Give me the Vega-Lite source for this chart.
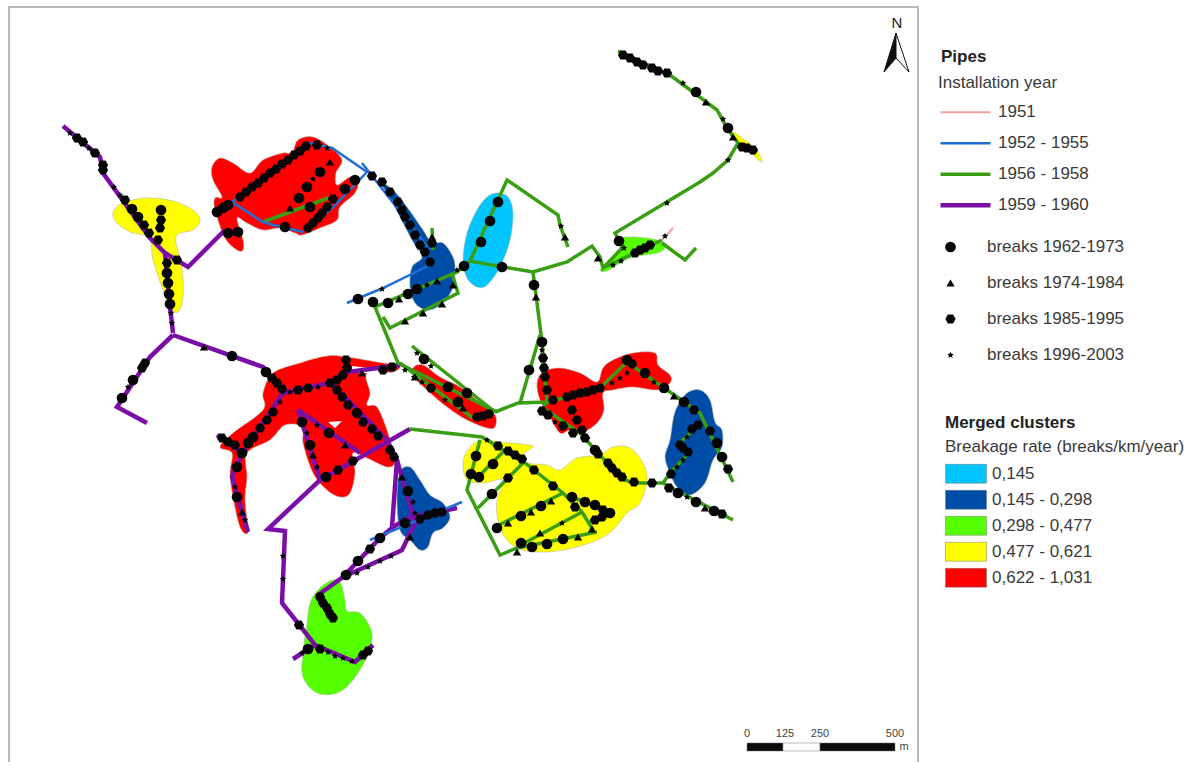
{"$schema":"https://vega.github.io/schema/vega-lite/v6.json","width":1194,"height":762,"autosize":{"type":"fit","contains":"padding"},"padding":0,"background":"white","config":{"view":{"stroke":null},"font":"Liberation Sans"},
"encoding":{"x":{"field":"x","type":"quantitative","scale":{"domain":[0,1194],"nice":false,"zero":false},"axis":null},"y":{"field":"y","type":"quantitative","scale":{"domain":[762,0],"nice":false,"zero":false},"axis":null}},
"layer":[
{"data":{"values":[{"x":9,"x2":918,"y":7,"y2":775}]},"mark":{"type":"rect","fill":"white","stroke":"#b8b8b8","strokeWidth":2,"clip":true},"encoding":{"x2":{"field":"x2"},"y2":{"field":"y2"}}},
{"data":{"values":[
{"g":"a","x":113,"y":213},{"g":"a","x":122,"y":203},{"g":"a","x":147,"y":198},{"g":"a","x":173,"y":201},{"g":"a","x":193,"y":210},{"g":"a","x":200,"y":220},{"g":"a","x":193,"y":230},{"g":"a","x":176,"y":237},{"g":"a","x":182,"y":267},{"g":"a","x":183,"y":297},{"g":"a","x":178,"y":312},{"g":"a","x":170,"y":307},{"g":"a","x":162,"y":287},{"g":"a","x":153,"y":260},{"g":"a","x":149,"y":238},{"g":"a","x":130,"y":232},{"g":"a","x":117,"y":223},
{"g":"b","x":212,"y":167},{"g":"b","x":220,"y":158},{"g":"b","x":233,"y":163},{"g":"b","x":250,"y":173},{"g":"b","x":263,"y":160},{"g":"b","x":283,"y":153},{"g":"b","x":292,"y":153},{"g":"b","x":298,"y":140},{"g":"b","x":313,"y":137},{"g":"b","x":330,"y":147},{"g":"b","x":342,"y":160},{"g":"b","x":336,"y":173},{"g":"b","x":337,"y":185},{"g":"b","x":350,"y":177},{"g":"b","x":358,"y":180},{"g":"b","x":355,"y":193},{"g":"b","x":340,"y":207},{"g":"b","x":337,"y":220},{"g":"b","x":320,"y":228},{"g":"b","x":302,"y":235},{"g":"b","x":295,"y":233},{"g":"b","x":280,"y":228},{"g":"b","x":263,"y":230},{"g":"b","x":247,"y":223},{"g":"b","x":237,"y":218},{"g":"b","x":243,"y":240},{"g":"b","x":243,"y":250},{"g":"b","x":237,"y":250},{"g":"b","x":225,"y":238},{"g":"b","x":215,"y":210},{"g":"b","x":215,"y":198},{"g":"b","x":222,"y":197},{"g":"b","x":213,"y":180},
{"g":"c","x":380,"y":182},{"g":"c","x":393,"y":190},{"g":"c","x":407,"y":207},{"g":"c","x":423,"y":230},{"g":"c","x":432,"y":243},{"g":"c","x":443,"y":243},{"g":"c","x":453,"y":257},{"g":"c","x":455,"y":270},{"g":"c","x":452,"y":290},{"g":"c","x":440,"y":305},{"g":"c","x":427,"y":310},{"g":"c","x":415,"y":303},{"g":"c","x":410,"y":287},{"g":"c","x":412,"y":267},{"g":"c","x":422,"y":257},{"g":"c","x":412,"y":240},{"g":"c","x":400,"y":217},{"g":"c","x":387,"y":193},
{"g":"d","x":497,"y":193},{"g":"d","x":508,"y":197},{"g":"d","x":513,"y":213},{"g":"d","x":510,"y":240},{"g":"d","x":500,"y":267},{"g":"d","x":487,"y":285},{"g":"d","x":477,"y":287},{"g":"d","x":467,"y":278},{"g":"d","x":463,"y":260},{"g":"d","x":467,"y":233},{"g":"d","x":477,"y":210},{"g":"d","x":487,"y":197},
{"g":"e","x":600,"y":270},{"g":"e","x":610,"y":260},{"g":"e","x":620,"y":250},{"g":"e","x":618,"y":240},{"g":"e","x":627,"y":237},{"g":"e","x":647,"y":238},{"g":"e","x":662,"y":242},{"g":"e","x":665,"y":248},{"g":"e","x":657,"y":253},{"g":"e","x":633,"y":257},{"g":"e","x":620,"y":263},{"g":"e","x":607,"y":271},
{"g":"f","x":537,"y":383},{"g":"f","x":543,"y":372},{"g":"f","x":560,"y":368},{"g":"f","x":580,"y":373},{"g":"f","x":597,"y":382},{"g":"f","x":603,"y":368},{"g":"f","x":613,"y":360},{"g":"f","x":633,"y":353},{"g":"f","x":655,"y":353},{"g":"f","x":658,"y":365},{"g":"f","x":670,"y":375},{"g":"f","x":670,"y":383},{"g":"f","x":657,"y":390},{"g":"f","x":633,"y":387},{"g":"f","x":613,"y":390},{"g":"f","x":603,"y":393},{"g":"f","x":604,"y":410},{"g":"f","x":597,"y":423},{"g":"f","x":583,"y":432},{"g":"f","x":570,"y":430},{"g":"f","x":560,"y":433},{"g":"f","x":550,"y":417},{"g":"f","x":540,"y":400},
{"g":"h","x":413,"y":368},{"g":"h","x":423,"y":365},{"g":"h","x":440,"y":377},{"g":"h","x":460,"y":387},{"g":"h","x":480,"y":403},{"g":"h","x":495,"y":415},{"g":"h","x":495,"y":427},{"g":"h","x":487,"y":428},{"g":"h","x":467,"y":420},{"g":"h","x":447,"y":407},{"g":"h","x":427,"y":390},{"g":"h","x":415,"y":378},
{"g":"i","x":677,"y":407},{"g":"i","x":687,"y":393},{"g":"i","x":700,"y":390},{"g":"i","x":710,"y":400},{"g":"i","x":715,"y":422},{"g":"i","x":722,"y":430},{"g":"i","x":722,"y":447},{"g":"i","x":713,"y":460},{"g":"i","x":705,"y":483},{"g":"i","x":690,"y":495},{"g":"i","x":677,"y":487},{"g":"i","x":670,"y":473},{"g":"i","x":665,"y":457},{"g":"i","x":670,"y":440},{"g":"i","x":673,"y":420},
{"g":"j","x":463,"y":463},{"g":"j","x":468,"y":450},{"g":"j","x":480,"y":440},{"g":"j","x":500,"y":442},{"g":"j","x":530,"y":445},{"g":"j","x":532,"y":448},{"g":"j","x":522,"y":455},{"g":"j","x":527,"y":463},{"g":"j","x":547,"y":465},{"g":"j","x":560,"y":470},{"g":"j","x":577,"y":458},{"g":"j","x":600,"y":455},{"g":"j","x":613,"y":447},{"g":"j","x":630,"y":448},{"g":"j","x":643,"y":463},{"g":"j","x":647,"y":480},{"g":"j","x":640,"y":503},{"g":"j","x":627,"y":513},{"g":"j","x":613,"y":530},{"g":"j","x":597,"y":540},{"g":"j","x":573,"y":548},{"g":"j","x":547,"y":552},{"g":"j","x":523,"y":550},{"g":"j","x":507,"y":540},{"g":"j","x":498,"y":520},{"g":"j","x":497,"y":500},{"g":"j","x":503,"y":480},{"g":"j","x":483,"y":483},{"g":"j","x":467,"y":480},
{"g":"k","x":263,"y":393},{"g":"k","x":273,"y":373},{"g":"k","x":300,"y":363},{"g":"k","x":327,"y":356},{"g":"k","x":347,"y":357},{"g":"k","x":383,"y":363},{"g":"k","x":400,"y":365},{"g":"k","x":393,"y":372},{"g":"k","x":367,"y":373},{"g":"k","x":370,"y":393},{"g":"k","x":367,"y":405},{"g":"k","x":377,"y":407},{"g":"k","x":387,"y":430},{"g":"k","x":393,"y":453},{"g":"k","x":395,"y":463},{"g":"k","x":387,"y":467},{"g":"k","x":367,"y":458},{"g":"k","x":353,"y":453},{"g":"k","x":355,"y":473},{"g":"k","x":350,"y":493},{"g":"k","x":340,"y":497},{"g":"k","x":327,"y":490},{"g":"k","x":313,"y":473},{"g":"k","x":303,"y":443},{"g":"k","x":303,"y":427},{"g":"k","x":285,"y":425},{"g":"k","x":270,"y":440},{"g":"k","x":247,"y":453},{"g":"k","x":247,"y":477},{"g":"k","x":245,"y":500},{"g":"k","x":248,"y":532},{"g":"k","x":240,"y":527},{"g":"k","x":233,"y":497},{"g":"k","x":230,"y":473},{"g":"k","x":232,"y":453},{"g":"k","x":220,"y":447},{"g":"k","x":233,"y":433},{"g":"k","x":263,"y":410},
{"g":"l","x":400,"y":472},{"g":"l","x":410,"y":467},{"g":"l","x":420,"y":480},{"g":"l","x":430,"y":495},{"g":"l","x":443,"y":503},{"g":"l","x":450,"y":517},{"g":"l","x":443,"y":528},{"g":"l","x":433,"y":533},{"g":"l","x":428,"y":547},{"g":"l","x":420,"y":550},{"g":"l","x":410,"y":540},{"g":"l","x":400,"y":530},{"g":"l","x":397,"y":500},
{"g":"m","x":318,"y":590},{"g":"m","x":330,"y":581},{"g":"m","x":340,"y":582},{"g":"m","x":345,"y":600},{"g":"m","x":347,"y":611},{"g":"m","x":360,"y":613},{"g":"m","x":370,"y":627},{"g":"m","x":372,"y":640},{"g":"m","x":367,"y":657},{"g":"m","x":353,"y":680},{"g":"m","x":337,"y":693},{"g":"m","x":317,"y":693},{"g":"m","x":303,"y":677},{"g":"m","x":303,"y":653},{"g":"m","x":307,"y":623},{"g":"m","x":310,"y":603},
{"g":"n","x":733,"y":132},{"g":"n","x":745,"y":140},{"g":"n","x":757,"y":150},{"g":"n","x":762,"y":162},{"g":"n","x":753,"y":155},{"g":"n","x":737,"y":142}
]},
"transform":[{"lookup":"g","from":{"data":{"values":[{"g":"a","rate":"0,477 - 0,621"},{"g":"b","rate":"0,622 - 1,031"},{"g":"c","rate":"0,145 - 0,298"},{"g":"d","rate":"0,145"},{"g":"e","rate":"0,298 - 0,477"},{"g":"f","rate":"0,622 - 1,031"},{"g":"h","rate":"0,622 - 1,031"},{"g":"i","rate":"0,145 - 0,298"},{"g":"j","rate":"0,477 - 0,621"},{"g":"k","rate":"0,622 - 1,031"},{"g":"l","rate":"0,145 - 0,298"},{"g":"m","rate":"0,298 - 0,477"},{"g":"n","rate":"0,477 - 0,621"}]},"key":"g","fields":["rate"]}}],
"mark":{"type":"line","order":null,"interpolate":"cardinal-closed","tension":0,"stroke":"#b5b5a5","strokeWidth":0.6},
"encoding":{"detail":{"field":"g"},"fill":{"field":"rate","type":"nominal","scale":{"domain":["0,145","0,145 - 0,298","0,298 - 0,477","0,477 - 0,621","0,622 - 1,031"],"range":["#00C5FF","#004DA8","#55FF00","#FFFF00","#FF0000"]},"legend":{"orient":"none","legendX":945,"legendY":439,"title":"Breakage rate (breaks/km/year)","titleLimit":300,"titleFontSize":17,"titleFontWeight":"normal","titleColor":"#3a3a3a","titlePadding":5,"labelFontSize":17,"labelColor":"#3a3a3a","labelOffset":5,"symbolType":"M-1,-0.46H1V0.46H-1Z","symbolSize":1681,"clipHeight":25.5,"rowPadding":0,"symbolStrokeColor":"#aaaaaa","symbolStrokeWidth":0.5}}}},
{"data":{"values":[{"g":"u","x":328,"y":422},{"g":"u","x":342,"y":421},{"g":"u","x":335,"y":428},{"g":"v","x":352,"y":366},{"g":"v","x":378,"y":369},{"g":"v","x":378,"y":373},{"g":"v","x":352,"y":373}]},"mark":{"type":"line","order":null,"fill":"white","stroke":null},"encoding":{"detail":{"field":"g"}}},
{"data":{"values":[
{"g":"P1","x":63,"y":126},{"g":"P1","x":100,"y":157},{"g":"P1","x":103,"y":173},{"g":"P1","x":150,"y":238},{"g":"P1","x":165,"y":253},{"g":"P1","x":188,"y":267},{"g":"P1","x":223,"y":232},{"g":"P1","x":243,"y":232},
{"g":"P2","x":165,"y":253},{"g":"P2","x":170,"y":307},{"g":"P2","x":173,"y":333},
{"g":"P3","x":173,"y":335},{"g":"P3","x":150,"y":357},{"g":"P3","x":117,"y":407},{"g":"P3","x":147,"y":423},
{"g":"P4","x":173,"y":335},{"g":"P4","x":263,"y":367},{"g":"P4","x":283,"y":393},{"g":"P4","x":330,"y":383},{"g":"P4","x":348,"y":370},{"g":"P4","x":345,"y":357},
{"g":"P5","x":348,"y":372},{"g":"P5","x":400,"y":365},
{"g":"P6","x":283,"y":393},{"g":"P6","x":242,"y":453},{"g":"P6","x":217,"y":435},
{"g":"P7","x":242,"y":453},{"g":"P7","x":232,"y":477},{"g":"P7","x":248,"y":532},
{"g":"P8","x":333,"y":385},{"g":"P8","x":387,"y":440},{"g":"P8","x":397,"y":460},{"g":"P8","x":392,"y":527},
{"g":"P9","x":397,"y":460},{"g":"P9","x":415,"y":523},{"g":"P9","x":402,"y":550},{"g":"P9","x":398,"y":552},{"g":"P9","x":343,"y":577},
{"g":"P10","x":298,"y":410},{"g":"P10","x":360,"y":453},
{"g":"P11","x":298,"y":410},{"g":"P11","x":320,"y":480},
{"g":"P12","x":410,"y":429},{"g":"P12","x":320,"y":480},{"g":"P12","x":268,"y":529},{"g":"P12","x":285,"y":531},{"g":"P12","x":282,"y":603},{"g":"P12","x":315,"y":645},{"g":"P12","x":355,"y":662},{"g":"P12","x":373,"y":645},
{"g":"P13","x":293,"y":659},{"g":"P13","x":315,"y":645},
{"g":"P14","x":333,"y":618},{"g":"P14","x":318,"y":595},{"g":"P14","x":343,"y":577},{"g":"P14","x":380,"y":538},{"g":"P14","x":393,"y":527},{"g":"P14","x":408,"y":518},{"g":"P14","x":457,"y":508},
{"g":"G1","x":618,"y":51},{"g":"G1","x":670,"y":75},{"g":"G1","x":693,"y":92},{"g":"G1","x":717,"y":110},{"g":"G1","x":727,"y":128},{"g":"G1","x":738,"y":143},{"g":"G1","x":728,"y":160},{"g":"G1","x":713,"y":173},{"g":"G1","x":700,"y":182},{"g":"G1","x":615,"y":233},{"g":"G1","x":623,"y":247},{"g":"G1","x":603,"y":268},{"g":"G1","x":600,"y":257},{"g":"G1","x":592,"y":246},{"g":"G1","x":567,"y":262},{"g":"G1","x":533,"y":272},{"g":"G1","x":503,"y":267},{"g":"G1","x":470,"y":261},{"g":"G1","x":457,"y":272},{"g":"G1","x":375,"y":307},{"g":"G1","x":398,"y":363},{"g":"G1","x":497,"y":412},
{"g":"G2","x":470,"y":261},{"g":"G2","x":507,"y":180},{"g":"G2","x":558,"y":215},{"g":"G2","x":560,"y":225},{"g":"G2","x":568,"y":247},
{"g":"G3","x":533,"y":272},{"g":"G3","x":542,"y":342},{"g":"G3","x":547,"y":402},
{"g":"G4","x":540,"y":335},{"g":"G4","x":520,"y":403},
{"g":"G5","x":495,"y":412},{"g":"G5","x":518,"y":403},{"g":"G5","x":547,"y":402},{"g":"G5","x":567,"y":397},{"g":"G5","x":600,"y":388},{"g":"G5","x":627,"y":362},{"g":"G5","x":667,"y":390},{"g":"G5","x":700,"y":413},{"g":"G5","x":733,"y":482},
{"g":"G6","x":547,"y":402},{"g":"G6","x":543,"y":408},{"g":"G6","x":580,"y":433},{"g":"G6","x":600,"y":455},{"g":"G6","x":620,"y":478},{"g":"G6","x":633,"y":483},{"g":"G6","x":663,"y":483},{"g":"G6","x":670,"y":473},{"g":"G6","x":690,"y":452},{"g":"G6","x":678,"y":445},{"g":"G6","x":700,"y":423},
{"g":"G7","x":663,"y":483},{"g":"G7","x":670,"y":487},{"g":"G7","x":733,"y":520},
{"g":"G8","x":452,"y":273},{"g":"G8","x":458,"y":293},{"g":"G8","x":390,"y":328},{"g":"G8","x":383,"y":317},
{"g":"G9","x":432,"y":228},{"g":"G9","x":433,"y":250},
{"g":"G10","x":412,"y":346},{"g":"G10","x":495,"y":412},
{"g":"G11","x":400,"y":363},{"g":"G11","x":473,"y":418},
{"g":"G12","x":603,"y":268},{"g":"G12","x":662,"y":240},
{"g":"G13","x":662,"y":243},{"g":"G13","x":685,"y":260},{"g":"G13","x":696,"y":248},
{"g":"G14","x":410,"y":429},{"g":"G14","x":482,"y":437},{"g":"G14","x":525,"y":463},{"g":"G14","x":563,"y":493},{"g":"G14","x":582,"y":512},{"g":"G14","x":593,"y":530},
{"g":"G15","x":480,"y":440},{"g":"G15","x":467,"y":490},{"g":"G15","x":500,"y":555},{"g":"G15","x":517,"y":548},{"g":"G15","x":597,"y":532},
{"g":"G16","x":503,"y":452},{"g":"G16","x":478,"y":477},
{"g":"G17","x":523,"y":463},{"g":"G17","x":478,"y":508},
{"g":"G18","x":563,"y":493},{"g":"G18","x":493,"y":528},
{"g":"G19","x":517,"y":547},{"g":"G19","x":582,"y":512},
{"g":"G20","x":572,"y":497},{"g":"G20","x":610,"y":512},{"g":"G20","x":590,"y":522},
{"g":"G21","x":263,"y":222},{"g":"G21","x":328,"y":198},
{"g":"G22","x":213,"y":213},{"g":"G22","x":232,"y":203},
{"g":"B1","x":232,"y":202},{"g":"B1","x":263,"y":222},{"g":"B1","x":273,"y":225},{"g":"B1","x":303,"y":232},
{"g":"B2","x":232,"y":202},{"g":"B2","x":310,"y":143},{"g":"B2","x":332,"y":148},{"g":"B2","x":367,"y":172},{"g":"B2","x":333,"y":207},{"g":"B2","x":307,"y":230},
{"g":"B3","x":362,"y":163},{"g":"B3","x":430,"y":250},
{"g":"B4","x":347,"y":303},{"g":"B4","x":383,"y":288},{"g":"B4","x":430,"y":265},
{"g":"B5","x":370,"y":540},{"g":"B5","x":462,"y":502},
{"g":"R1","x":662,"y":240},{"g":"R1","x":673,"y":228}
]},
"transform":[{"lookup":"g","from":{"data":{"values":[{"g":"R1","year":"1951"},{"g":"B1","year":"1952 - 1955"},{"g":"B2","year":"1952 - 1955"},{"g":"B3","year":"1952 - 1955"},{"g":"B4","year":"1952 - 1955"},{"g":"B5","year":"1952 - 1955"},{"g":"G1","year":"1956 - 1958"},{"g":"G2","year":"1956 - 1958"},{"g":"G3","year":"1956 - 1958"},{"g":"G4","year":"1956 - 1958"},{"g":"G5","year":"1956 - 1958"},{"g":"G6","year":"1956 - 1958"},{"g":"G7","year":"1956 - 1958"},{"g":"G8","year":"1956 - 1958"},{"g":"G9","year":"1956 - 1958"},{"g":"G10","year":"1956 - 1958"},{"g":"G11","year":"1956 - 1958"},{"g":"G12","year":"1956 - 1958"},{"g":"G13","year":"1956 - 1958"},{"g":"G14","year":"1956 - 1958"},{"g":"G15","year":"1956 - 1958"},{"g":"G16","year":"1956 - 1958"},{"g":"G17","year":"1956 - 1958"},{"g":"G18","year":"1956 - 1958"},{"g":"G19","year":"1956 - 1958"},{"g":"G20","year":"1956 - 1958"},{"g":"G21","year":"1956 - 1958"},{"g":"G22","year":"1956 - 1958"},{"g":"P1","year":"1959 - 1960"},{"g":"P2","year":"1959 - 1960"},{"g":"P3","year":"1959 - 1960"},{"g":"P4","year":"1959 - 1960"},{"g":"P5","year":"1959 - 1960"},{"g":"P6","year":"1959 - 1960"},{"g":"P7","year":"1959 - 1960"},{"g":"P8","year":"1959 - 1960"},{"g":"P9","year":"1959 - 1960"},{"g":"P10","year":"1959 - 1960"},{"g":"P11","year":"1959 - 1960"},{"g":"P12","year":"1959 - 1960"},{"g":"P13","year":"1959 - 1960"},{"g":"P14","year":"1959 - 1960"}]},"key":"g","fields":["year"]}}],
"mark":{"type":"line","order":null,"strokeJoin":"miter"},
"encoding":{"detail":{"field":"g"},
"stroke":{"field":"year","type":"nominal","scale":{"domain":["1951","1952 - 1955","1956 - 1958","1959 - 1960"],"range":["#f0a0a0","#1f6fd6","#3a9e12","#7a0fa8"]},"legend":{"orient":"none","legendX":938,"legendY":75,"title":"Installation year","titleFontSize":17,"titleFontWeight":"normal","titleColor":"#3a3a3a","titlePadding":5,"labelFontSize":17,"labelColor":"#3a3a3a","labelOffset":5,"symbolType":"stroke","symbolSize":2500,"clipHeight":30.3,"rowPadding":0}},
"strokeWidth":{"field":"year","type":"nominal","scale":{"type":"ordinal","domain":["1951","1952 - 1955","1956 - 1958","1959 - 1960"],"range":[2,2.5,3.5,4.5]},"legend":{"orient":"none","legendX":938,"legendY":75,"title":"Installation year","titleFontSize":17,"titleFontWeight":"normal","titleColor":"#3a3a3a","titlePadding":5,"labelFontSize":17,"labelColor":"#3a3a3a","labelOffset":5,"symbolType":"stroke","symbolSize":2500,"clipHeight":30.3,"rowPadding":0}}}},
{"data":{"values":[
{"b":"D","x":70,"y":133},{"b":"C","x":77,"y":138},{"b":"C","x":83,"y":142},{"b":"D","x":89,"y":148},{"b":"C","x":95,"y":153},{"b":"C","x":103,"y":165},{"b":"C","x":103,"y":170},{"b":"D","x":114,"y":187},{"b":"D","x":120,"y":195},{"b":"C","x":125,"y":200},{"b":"A","x":132,"y":209},{"b":"A","x":138,"y":217},{"b":"C","x":144,"y":225},{"b":"C","x":149,"y":233},{"b":"C","x":158,"y":240},{"b":"C","x":177,"y":260},
{"b":"A","x":161,"y":210},{"b":"C","x":161,"y":220},{"b":"C","x":160,"y":228},{"b":"C","x":167,"y":263},{"b":"A","x":167,"y":273},{"b":"A","x":168,"y":283},{"b":"A","x":169,"y":294},{"b":"A","x":170,"y":304},{"b":"D","x":171,"y":313},{"b":"D","x":172,"y":323},
{"b":"A","x":217,"y":212},{"b":"A","x":223,"y":208},{"b":"A","x":228,"y":205},{"b":"A","x":228,"y":233},{"b":"A","x":238,"y":232},
{"b":"C","x":240,"y":197},{"b":"C","x":246,"y":192},{"b":"C","x":252,"y":187},{"b":"C","x":258,"y":183},{"b":"C","x":264,"y":178},{"b":"C","x":270,"y":173},{"b":"C","x":276,"y":169},{"b":"C","x":282,"y":164},{"b":"C","x":288,"y":160},{"b":"C","x":294,"y":155},{"b":"C","x":300,"y":151},{"b":"C","x":306,"y":146},
{"b":"B","x":330,"y":162},{"b":"A","x":320,"y":172},{"b":"D","x":313,"y":179},{"b":"A","x":307,"y":187},{"b":"A","x":299,"y":198},{"b":"B","x":290,"y":208},{"b":"A","x":310,"y":207},{"b":"A","x":285,"y":227},
{"b":"C","x":308,"y":228},{"b":"C","x":313,"y":223},{"b":"C","x":318,"y":218},{"b":"C","x":322,"y":213},{"b":"C","x":327,"y":207},{"b":"C","x":333,"y":199},{"b":"A","x":345,"y":189},{"b":"A","x":355,"y":180},{"b":"C","x":317,"y":145},{"b":"D","x":327,"y":148},
{"b":"C","x":372,"y":176},{"b":"C","x":382,"y":182},{"b":"C","x":390,"y":192},{"b":"C","x":398,"y":202},{"b":"C","x":402,"y":210},{"b":"C","x":405,"y":217},{"b":"C","x":410,"y":225},{"b":"C","x":415,"y":235},{"b":"C","x":420,"y":245},{"b":"C","x":425,"y":252},{"b":"C","x":430,"y":262},{"b":"C","x":432,"y":243},{"b":"B","x":432,"y":237},
{"b":"A","x":358,"y":299},{"b":"D","x":382,"y":289},{"b":"A","x":373,"y":302},{"b":"A","x":388,"y":303},{"b":"B","x":399,"y":299},{"b":"A","x":408,"y":294},{"b":"A","x":417,"y":289},{"b":"D","x":427,"y":285},{"b":"B","x":437,"y":281},{"b":"D","x":457,"y":270},{"b":"A","x":464,"y":266},{"b":"B","x":453,"y":285},{"b":"B","x":442,"y":304},{"b":"B","x":423,"y":313},{"b":"B","x":405,"y":321},
{"b":"A","x":498,"y":202},{"b":"A","x":490,"y":221},{"b":"A","x":481,"y":242},{"b":"A","x":502,"y":267},{"b":"D","x":561,"y":226},{"b":"B","x":565,"y":237},{"b":"D","x":667,"y":203},{"b":"B","x":598,"y":258},
{"b":"A","x":534,"y":285},{"b":"B","x":536,"y":297},{"b":"A","x":542,"y":342},{"b":"D","x":542,"y":350},{"b":"C","x":543,"y":358},{"b":"C","x":544,"y":368},{"b":"C","x":545,"y":377},{"b":"A","x":529,"y":370},
{"b":"A","x":619,"y":241},{"b":"D","x":624,"y":248},{"b":"D","x":613,"y":265},{"b":"D","x":621,"y":261},{"b":"C","x":635,"y":253},{"b":"C","x":640,"y":250},{"b":"C","x":645,"y":248},{"b":"C","x":650,"y":245},{"b":"D","x":665,"y":236},
{"b":"C","x":623,"y":55},{"b":"C","x":630,"y":58},{"b":"C","x":637,"y":62},{"b":"C","x":643,"y":65},{"b":"C","x":652,"y":68},{"b":"C","x":658,"y":71},{"b":"C","x":667,"y":73},{"b":"D","x":683,"y":83},{"b":"A","x":696,"y":92},{"b":"B","x":706,"y":102},{"b":"D","x":723,"y":119},{"b":"A","x":728,"y":128},{"b":"B","x":733,"y":137},{"b":"C","x":742,"y":147},{"b":"C","x":747,"y":148},{"b":"C","x":753,"y":150},{"b":"D","x":728,"y":160},
{"b":"B","x":204,"y":347},{"b":"A","x":232,"y":356},{"b":"A","x":266,"y":372},{"b":"C","x":272,"y":378},{"b":"C","x":277,"y":383},{"b":"C","x":282,"y":389},
{"b":"C","x":145,"y":363},{"b":"C","x":142,"y":368},{"b":"A","x":133,"y":380},{"b":"D","x":128,"y":387},{"b":"A","x":122,"y":398},
{"b":"D","x":280,"y":402},{"b":"C","x":273,"y":412},{"b":"C","x":267,"y":420},{"b":"C","x":260,"y":428},{"b":"A","x":253,"y":437},{"b":"A","x":248,"y":443},{"b":"A","x":242,"y":453},{"b":"C","x":222,"y":438},{"b":"C","x":228,"y":442},{"b":"C","x":235,"y":445},
{"b":"A","x":237,"y":467},{"b":"D","x":235,"y":487},{"b":"A","x":237,"y":497},{"b":"B","x":242,"y":512},{"b":"D","x":245,"y":520},
{"b":"D","x":290,"y":392},{"b":"C","x":298,"y":390},{"b":"C","x":308,"y":388},{"b":"D","x":318,"y":387},{"b":"C","x":330,"y":383},{"b":"C","x":337,"y":380},{"b":"C","x":343,"y":375},{"b":"C","x":347,"y":368},{"b":"C","x":346,"y":360},
{"b":"C","x":337,"y":390},{"b":"C","x":342,"y":397},{"b":"C","x":348,"y":405},{"b":"A","x":357,"y":413},{"b":"C","x":363,"y":422},{"b":"C","x":372,"y":429},{"b":"C","x":378,"y":436},{"b":"C","x":390,"y":450},{"b":"C","x":394,"y":457},
{"b":"B","x":362,"y":373},{"b":"C","x":383,"y":370},{"b":"C","x":392,"y":367},{"b":"D","x":405,"y":370},{"b":"B","x":415,"y":377},
{"b":"A","x":302,"y":422},{"b":"D","x":307,"y":433},{"b":"A","x":310,"y":445},{"b":"B","x":313,"y":455},{"b":"D","x":317,"y":467},{"b":"A","x":326,"y":477},{"b":"C","x":338,"y":470},{"b":"C","x":353,"y":461},{"b":"B","x":345,"y":445},{"b":"A","x":329,"y":433},{"b":"D","x":317,"y":425},
{"b":"B","x":402,"y":477},{"b":"A","x":408,"y":491},{"b":"D","x":413,"y":502},{"b":"D","x":415,"y":513},{"b":"A","x":405,"y":523},{"b":"B","x":410,"y":537},{"b":"C","x":420,"y":519},{"b":"C","x":428,"y":515},{"b":"C","x":435,"y":513},{"b":"C","x":442,"y":512},
{"b":"D","x":283,"y":556},{"b":"D","x":283,"y":579},{"b":"C","x":299,"y":625},{"b":"A","x":380,"y":538},{"b":"C","x":370,"y":549},{"b":"A","x":358,"y":561},{"b":"A","x":346,"y":575},{"b":"D","x":391,"y":556},{"b":"D","x":380,"y":561},{"b":"D","x":368,"y":567},{"b":"D","x":357,"y":573},
{"b":"C","x":320,"y":597},{"b":"C","x":323,"y":603},{"b":"C","x":327,"y":608},{"b":"C","x":330,"y":614},{"b":"C","x":333,"y":618},
{"b":"A","x":308,"y":649},{"b":"D","x":302,"y":653},{"b":"C","x":320,"y":649},{"b":"D","x":328,"y":652},{"b":"D","x":335,"y":656},{"b":"D","x":343,"y":658},{"b":"D","x":352,"y":661},{"b":"C","x":363,"y":655},{"b":"C","x":368,"y":651},
{"b":"D","x":417,"y":353},{"b":"A","x":424,"y":359},{"b":"D","x":431,"y":366},{"b":"A","x":467,"y":393},{"b":"A","x":448,"y":387},{"b":"A","x":458,"y":402},{"b":"B","x":463,"y":408},{"b":"D","x":445,"y":400},{"b":"C","x":431,"y":388},{"b":"D","x":422,"y":382},{"b":"D","x":414,"y":377},{"b":"C","x":477,"y":417},{"b":"C","x":483,"y":416},{"b":"C","x":489,"y":414},
{"b":"C","x":547,"y":390},{"b":"C","x":553,"y":400},{"b":"C","x":567,"y":397},{"b":"C","x":573,"y":395},{"b":"C","x":580,"y":393},{"b":"C","x":587,"y":392},{"b":"C","x":593,"y":390},{"b":"C","x":600,"y":388},{"b":"D","x":612,"y":383},{"b":"D","x":620,"y":378},{"b":"D","x":627,"y":373},{"b":"A","x":627,"y":360},{"b":"C","x":632,"y":364},{"b":"A","x":645,"y":373},{"b":"D","x":654,"y":382},{"b":"A","x":664,"y":388},{"b":"B","x":674,"y":396},{"b":"A","x":684,"y":402},{"b":"C","x":694,"y":410},{"b":"C","x":710,"y":431},{"b":"A","x":717,"y":443},{"b":"A","x":722,"y":457},{"b":"C","x":728,"y":469},
{"b":"C","x":692,"y":429},{"b":"C","x":698,"y":425},{"b":"D","x":687,"y":437},{"b":"C","x":680,"y":445},{"b":"C","x":683,"y":448},{"b":"C","x":688,"y":452},{"b":"D","x":683,"y":460},{"b":"D","x":677,"y":467},{"b":"C","x":671,"y":474},
{"b":"C","x":669,"y":488},{"b":"A","x":678,"y":493},{"b":"D","x":687,"y":497},{"b":"A","x":696,"y":502},{"b":"B","x":705,"y":508},{"b":"A","x":714,"y":511},{"b":"C","x":722,"y":514},{"b":"C","x":634,"y":482},{"b":"C","x":652,"y":483},
{"b":"C","x":542,"y":411},{"b":"C","x":548,"y":415},{"b":"D","x":555,"y":422},{"b":"C","x":563,"y":426},{"b":"C","x":573,"y":433},{"b":"C","x":572,"y":410},{"b":"C","x":577,"y":420},{"b":"C","x":582,"y":430},{"b":"C","x":585,"y":438},{"b":"A","x":595,"y":450},{"b":"C","x":598,"y":454},{"b":"C","x":608,"y":463},{"b":"C","x":612,"y":468},{"b":"C","x":617,"y":473},{"b":"C","x":622,"y":477},
{"b":"D","x":487,"y":440},{"b":"C","x":498,"y":446},{"b":"C","x":508,"y":451},{"b":"C","x":515,"y":455},{"b":"C","x":522,"y":459},{"b":"C","x":534,"y":470},{"b":"C","x":553,"y":486},{"b":"A","x":476,"y":456},{"b":"A","x":493,"y":464},{"b":"A","x":471,"y":474},{"b":"A","x":479,"y":477},{"b":"C","x":508,"y":478},{"b":"A","x":492,"y":494},{"b":"A","x":497,"y":528},{"b":"B","x":508,"y":523},{"b":"A","x":521,"y":516},{"b":"B","x":531,"y":512},{"b":"A","x":541,"y":506},{"b":"B","x":551,"y":501},{"b":"A","x":572,"y":497},{"b":"C","x":575,"y":507},{"b":"A","x":585,"y":502},{"b":"A","x":595,"y":505},{"b":"C","x":603,"y":510},{"b":"A","x":610,"y":513},{"b":"C","x":602,"y":517},{"b":"C","x":595,"y":520},{"b":"D","x":562,"y":523},{"b":"B","x":540,"y":533},{"b":"A","x":521,"y":543},{"b":"A","x":532,"y":547},{"b":"A","x":547,"y":544},{"b":"A","x":563,"y":539},{"b":"B","x":578,"y":537},{"b":"B","x":592,"y":529},{"b":"B","x":517,"y":552}
]},
"mark":{"type":"point","filled":true,"opacity":1,"color":"#050505"},
"encoding":{
"shape":{"field":"b","type":"nominal","scale":{"domain":["A","B","C","D"],"range":["circle","triangle-up","M-1,0L-.5,-.87L.5,-.87L1,0L.5,.87L-.5,.87Z","M0,-1L.29,-.4L.95,-.31L.48,.15L.59,.81L0,.5L-.59,.81L-.48,.15L-.95,-.31L-.29,-.4Z"]},"legend":{"orient":"none","legendX":942,"legendY":229,"title":null,"labelFontSize":17,"labelColor":"#3a3a3a","labelOffset":28,"clipHeight":36,"rowPadding":0,"labelExpr":"{'A':'breaks 1962-1973','B':'breaks 1974-1984','C':'breaks 1985-1995','D':'breaks 1996-2003'}[datum.label]"}},
"size":{"field":"b","type":"nominal","scale":{"type":"ordinal","domain":["A","B","C","D"],"range":[115,70,105,45]},"legend":{"orient":"none","legendX":942,"legendY":229,"title":null,"labelFontSize":17,"labelColor":"#3a3a3a","labelOffset":28,"clipHeight":36,"rowPadding":0,"labelExpr":"{'A':'breaks 1962-1973','B':'breaks 1974-1984','C':'breaks 1985-1995','D':'breaks 1996-2003'}[datum.label]"}}}},
{"data":{"values":[{"x":896,"y":33,"g":"left"},{"x":884,"y":72,"g":"left"},{"x":896,"y":58,"g":"left"}]},"mark":{"type":"line","order":null,"fill":"#111111","stroke":"#111111","strokeWidth":1},"encoding":{"detail":{"field":"g"}}},
{"data":{"values":[{"x":896,"y":33,"g":"right"},{"x":909,"y":72,"g":"right"},{"x":896,"y":58,"g":"right"},{"x":896,"y":33,"g":"right"}]},"mark":{"type":"line","order":null,"stroke":"#111111","strokeWidth":1},"encoding":{"detail":{"field":"g"}}},
{"data":{"values":[{"x":747,"x2":783,"y":743,"y2":751,"f":"#0a0a0a"},{"x":783,"x2":820,"y":743,"y2":751,"f":"#ffffff"},{"x":820,"x2":895,"y":743,"y2":751,"f":"#0a0a0a"}]},"mark":{"type":"rect","stroke":"#777777","strokeWidth":0.5},"encoding":{"x2":{"field":"x2"},"y2":{"field":"y2"},"fill":{"field":"f","type":"nominal","scale":null}}},
{"data":{"values":[{"x":941,"y":57,"t":"Pipes"},{"x":945,"y":423,"t":"Merged clusters"}]},"mark":{"type":"text","align":"left","baseline":"middle","fontWeight":"bold","fontSize":17,"color":"#222222"},"encoding":{"text":{"field":"t"}}},
{"data":{"values":[{"x":747,"y":734,"t":"0"},{"x":785,"y":734,"t":"125"},{"x":820,"y":734,"t":"250"},{"x":895,"y":734,"t":"500"},{"x":904,"y":747,"t":"m"}]},"mark":{"type":"text","align":"center","baseline":"middle","fontSize":11,"color":"#444444"},"encoding":{"text":{"field":"t"}}},
{"data":{"values":[{"x":897,"y":23,"t":"N"}]},"mark":{"type":"text","align":"center","baseline":"middle","fontSize":15,"color":"#222222"},"encoding":{"text":{"field":"t"}}}
]}
